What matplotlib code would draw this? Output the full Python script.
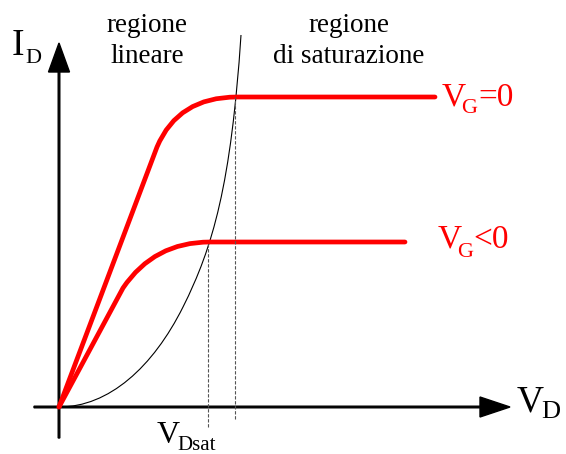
import numpy as np
import matplotlib.pyplot as plt
from matplotlib.path import Path
from matplotlib.patches import PathPatch

plt.rcParams['font.family'] = ['Liberation Serif', 'DejaVu Serif']

# DATA (arbitrary units, origin at V_D=0, I_D=0)
# red characteristics: end of linear part, knee, start of saturation, end of line
vg0_kink = (98, 260)
vg0_knee = (119, 310)
vg0_sat = (178, 310)
vg0_end = 376

vgn_kink = (64, 119)
vgn_knee = (95, 165)
vgn_sat = (151, 165)
vgn_end = 346

# V_Dsat locus (black curve): two cubic pieces, start / controls / end
locus_vd = [0, 50, 94, 124, 154, 172, 182]
locus_id = [0, 0, 40, 100, 160, 222, 372]

curve_labels = ['=0', '<0']
region_left = ['regione', 'lineare']
region_right = ['regione', 'di saturazione']

RED = '#ff0000'

fig = plt.figure(figsize=(5.66, 4.54), dpi=100)
ax = fig.add_axes([0, 0, 1, 1])
ax.set_xlim(-59, 507)
ax.set_ylim(-47, 407)
ax.axis('off')

# axes with arrows
ax.arrow(-25, 0, 476, 0, width=1.6, head_width=20, head_length=30,
         length_includes_head=True, fc='k', ec='k')
ax.arrow(0, -31, 0, 395, width=1.6, head_width=21, head_length=29,
         length_includes_head=True, fc='k', ec='k')

# dashed verticals at saturation points
for sat, bottom in [(vg0_sat, -12), (vgn_sat, -20)]:
    ax.plot([sat[0] - 2, sat[0] - 2], [bottom, sat[1]], color='#555555',
            lw=0.8, ls=(0, (3, 1.5)))

# locus curve
locus = Path(list(zip(locus_vd, locus_id)),
             [Path.MOVETO] + [Path.CURVE4] * 6)
ax.add_patch(PathPatch(locus, fc='none', ec='k', lw=0.8))

# red characteristics
for kink, knee, sat, end in [(vg0_kink, vg0_knee, vg0_sat, vg0_end),
                             (vgn_kink, vgn_knee, vgn_sat, vgn_end)]:
    verts = [(0, 0), kink, knee, sat, (end, sat[1])]
    codes = [Path.MOVETO, Path.LINETO, Path.CURVE3, Path.CURVE3, Path.LINETO]
    ax.add_patch(PathPatch(Path(verts, codes), fc='none', ec=RED, lw=3.4,
                           capstyle='round', joinstyle='round'))

# curve labels
ax.text(383, 301, 'V', color=RED, fontsize=24, va='baseline')
ax.text(402, 294, 'G', color=RED, fontsize=16, va='baseline')
ax.text(419, 301, curve_labels[0], color=RED, fontsize=24, va='baseline')
ax.text(379, 159, 'V', color=RED, fontsize=24, va='baseline')
ax.text(398, 150, 'G', color=RED, fontsize=16, va='baseline')
ax.text(414, 159, curve_labels[1], color=RED, fontsize=24, va='baseline')

# axis labels
ax.text(-47, 352, 'I', fontsize=27, va='baseline')
ax.text(-34, 344, 'D', fontsize=16, va='baseline')
ax.text(458, -5, 'V', fontsize=27, va='baseline')
ax.text(482, -11, 'D', fontsize=19, va='baseline')
ax.text(98, -36, 'V', fontsize=23, va='baseline')
ax.text(118, -43, 'Dsat', fontsize=15, va='baseline')

# region titles
for cx, lines in [(88, region_left), (290, region_right)]:
    ax.text(cx, 375, lines[0], fontsize=19.5, ha='center', va='baseline')
    ax.text(cx, 344, lines[1], fontsize=19.5, ha='center', va='baseline')

fig.savefig('out.png', dpi=100)
